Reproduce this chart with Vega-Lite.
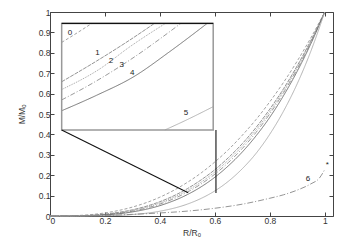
{
  "$schema": "https://vega.github.io/schema/vega-lite/v6.json",
  "width": 283,
  "height": 204,
  "autosize": "none",
  "padding": {"left": 50, "top": 12, "right": 18, "bottom": 30},
  "background": "white",
  "config": {
    "view": {"stroke": null},
    "axis": {
      "grid": false,
      "domainColor": "#444",
      "domainWidth": 1,
      "tickColor": "#444",
      "tickSize": -4,
      "labelFont": "Liberation Sans",
      "labelFontSize": 8.5,
      "labelColor": "#333",
      "titleFont": "Liberation Sans",
      "titleFontSize": 8.5,
      "titleFontWeight": "normal",
      "titleColor": "#333",
      "labelPadding": 4
    }
  },
  "datasets": {
    "curves": [
      {"g": "m0", "c": "0", "R": 0, "M": 0}, {"g": "m0", "c": "0", "R": 0.1, "M": 0.0025}, {"g": "m0", "c": "0", "R": 0.2, "M": 0.0152}, {"g": "m0", "c": "0", "R": 0.3, "M": 0.0437}, {"g": "m0", "c": "0", "R": 0.4, "M": 0.0923}, {"g": "m0", "c": "0", "R": 0.5, "M": 0.165}, {"g": "m0", "c": "0", "R": 0.55, "M": 0.211}, {"g": "m0", "c": "0", "R": 0.6, "M": 0.265}, {"g": "m0", "c": "0", "R": 0.65, "M": 0.326}, {"g": "m0", "c": "0", "R": 0.7, "M": 0.396}, {"g": "m0", "c": "0", "R": 0.75, "M": 0.473}, {"g": "m0", "c": "0", "R": 0.8, "M": 0.56}, {"g": "m0", "c": "0", "R": 0.85, "M": 0.655}, {"g": "m0", "c": "0", "R": 0.9, "M": 0.76}, {"g": "m0", "c": "0", "R": 0.95, "M": 0.875}, {"g": "m0", "c": "0", "R": 1, "M": 1},
      {"g": "m1", "c": "1", "R": 0, "M": 0}, {"g": "m1", "c": "1", "R": 0.1, "M": 0.0013}, {"g": "m1", "c": "1", "R": 0.2, "M": 0.0094}, {"g": "m1", "c": "1", "R": 0.3, "M": 0.0304}, {"g": "m1", "c": "1", "R": 0.4, "M": 0.0701}, {"g": "m1", "c": "1", "R": 0.5, "M": 0.134}, {"g": "m1", "c": "1", "R": 0.55, "M": 0.177}, {"g": "m1", "c": "1", "R": 0.6, "M": 0.227}, {"g": "m1", "c": "1", "R": 0.65, "M": 0.287}, {"g": "m1", "c": "1", "R": 0.7, "M": 0.355}, {"g": "m1", "c": "1", "R": 0.75, "M": 0.434}, {"g": "m1", "c": "1", "R": 0.8, "M": 0.524}, {"g": "m1", "c": "1", "R": 0.85, "M": 0.624}, {"g": "m1", "c": "1", "R": 0.9, "M": 0.737}, {"g": "m1", "c": "1", "R": 0.95, "M": 0.862}, {"g": "m1", "c": "1", "R": 1, "M": 1},
      {"g": "m2", "c": "2", "R": 0, "M": 0}, {"g": "m2", "c": "2", "R": 0.1, "M": 0.001}, {"g": "m2", "c": "2", "R": 0.2, "M": 0.008}, {"g": "m2", "c": "2", "R": 0.3, "M": 0.027}, {"g": "m2", "c": "2", "R": 0.4, "M": 0.064}, {"g": "m2", "c": "2", "R": 0.5, "M": 0.125}, {"g": "m2", "c": "2", "R": 0.55, "M": 0.166}, {"g": "m2", "c": "2", "R": 0.6, "M": 0.216}, {"g": "m2", "c": "2", "R": 0.65, "M": 0.275}, {"g": "m2", "c": "2", "R": 0.7, "M": 0.343}, {"g": "m2", "c": "2", "R": 0.75, "M": 0.422}, {"g": "m2", "c": "2", "R": 0.8, "M": 0.512}, {"g": "m2", "c": "2", "R": 0.85, "M": 0.614}, {"g": "m2", "c": "2", "R": 0.9, "M": 0.729}, {"g": "m2", "c": "2", "R": 0.95, "M": 0.857}, {"g": "m2", "c": "2", "R": 1, "M": 1},
      {"g": "m3", "c": "3", "R": 0, "M": 0}, {"g": "m3", "c": "3", "R": 0.1, "M": 0.0008}, {"g": "m3", "c": "3", "R": 0.2, "M": 0.0068}, {"g": "m3", "c": "3", "R": 0.3, "M": 0.0239}, {"g": "m3", "c": "3", "R": 0.4, "M": 0.0584}, {"g": "m3", "c": "3", "R": 0.5, "M": 0.117}, {"g": "m3", "c": "3", "R": 0.55, "M": 0.157}, {"g": "m3", "c": "3", "R": 0.6, "M": 0.205}, {"g": "m3", "c": "3", "R": 0.65, "M": 0.263}, {"g": "m3", "c": "3", "R": 0.7, "M": 0.331}, {"g": "m3", "c": "3", "R": 0.75, "M": 0.41}, {"g": "m3", "c": "3", "R": 0.8, "M": 0.501}, {"g": "m3", "c": "3", "R": 0.85, "M": 0.604}, {"g": "m3", "c": "3", "R": 0.9, "M": 0.721}, {"g": "m3", "c": "3", "R": 0.95, "M": 0.853}, {"g": "m3", "c": "3", "R": 1, "M": 1},
      {"g": "m4", "c": "4", "R": 0, "M": 0}, {"g": "m4", "c": "4", "R": 0.1, "M": 0.0006}, {"g": "m4", "c": "4", "R": 0.2, "M": 0.0054}, {"g": "m4", "c": "4", "R": 0.3, "M": 0.02}, {"g": "m4", "c": "4", "R": 0.4, "M": 0.0509}, {"g": "m4", "c": "4", "R": 0.5, "M": 0.105}, {"g": "m4", "c": "4", "R": 0.55, "M": 0.143}, {"g": "m4", "c": "4", "R": 0.6, "M": 0.19}, {"g": "m4", "c": "4", "R": 0.65, "M": 0.247}, {"g": "m4", "c": "4", "R": 0.7, "M": 0.314}, {"g": "m4", "c": "4", "R": 0.75, "M": 0.393}, {"g": "m4", "c": "4", "R": 0.8, "M": 0.484}, {"g": "m4", "c": "4", "R": 0.85, "M": 0.59}, {"g": "m4", "c": "4", "R": 0.9, "M": 0.71}, {"g": "m4", "c": "4", "R": 0.95, "M": 0.846}, {"g": "m4", "c": "4", "R": 1, "M": 1},
      {"g": "m5", "c": "5", "R": 0, "M": 0}, {"g": "m5", "c": "5", "R": 0.1, "M": 0.0001}, {"g": "m5", "c": "5", "R": 0.2, "M": 0.0014}, {"g": "m5", "c": "5", "R": 0.3, "M": 0.0072}, {"g": "m5", "c": "5", "R": 0.4, "M": 0.0234}, {"g": "m5", "c": "5", "R": 0.5, "M": 0.0583}, {"g": "m5", "c": "5", "R": 0.55, "M": 0.0862}, {"g": "m5", "c": "5", "R": 0.6, "M": 0.123}, {"g": "m5", "c": "5", "R": 0.65, "M": 0.171}, {"g": "m5", "c": "5", "R": 0.7, "M": 0.232}, {"g": "m5", "c": "5", "R": 0.75, "M": 0.307}, {"g": "m5", "c": "5", "R": 0.8, "M": 0.401}, {"g": "m5", "c": "5", "R": 0.85, "M": 0.514}, {"g": "m5", "c": "5", "R": 0.9, "M": 0.649}, {"g": "m5", "c": "5", "R": 0.95, "M": 0.81}, {"g": "m5", "c": "5", "R": 1, "M": 1},
      {"g": "m6", "c": "6", "R": 0, "M": 0}, {"g": "m6", "c": "6", "R": 0.1, "M": 0.0005}, {"g": "m6", "c": "6", "R": 0.2, "M": 0.003}, {"g": "m6", "c": "6", "R": 0.3, "M": 0.008}, {"g": "m6", "c": "6", "R": 0.4, "M": 0.015}, {"g": "m6", "c": "6", "R": 0.5, "M": 0.024}, {"g": "m6", "c": "6", "R": 0.6, "M": 0.038}, {"g": "m6", "c": "6", "R": 0.7, "M": 0.058}, {"g": "m6", "c": "6", "R": 0.8, "M": 0.087}, {"g": "m6", "c": "6", "R": 0.85, "M": 0.104}, {"g": "m6", "c": "6", "R": 0.9, "M": 0.127}, {"g": "m6", "c": "6", "R": 0.95, "M": 0.158}, {"g": "m6", "c": "6", "R": 0.98, "M": 0.185}, {"g": "m6", "c": "6", "R": 1.0, "M": 0.228},
      {"g": "i0", "c": "0", "R": 0.0425, "M": 0.851}, {"g": "i0", "c": "0", "R": 0.098, "M": 0.897}, {"g": "i0", "c": "0", "R": 0.152, "M": 0.944},
      {"g": "i1", "c": "1", "R": 0.0425, "M": 0.658}, {"g": "i1", "c": "1", "R": 0.17, "M": 0.76}, {"g": "i1", "c": "1", "R": 0.291, "M": 0.863}, {"g": "i1", "c": "1", "R": 0.38, "M": 0.944},
      {"g": "i2", "c": "2", "R": 0.0425, "M": 0.62}, {"g": "i2", "c": "2", "R": 0.18, "M": 0.72}, {"g": "i2", "c": "2", "R": 0.291, "M": 0.83}, {"g": "i2", "c": "2", "R": 0.42, "M": 0.944},
      {"g": "i3", "c": "3", "R": 0.0425, "M": 0.569}, {"g": "i3", "c": "3", "R": 0.16, "M": 0.655}, {"g": "i3", "c": "3", "R": 0.291, "M": 0.765}, {"g": "i3", "c": "3", "R": 0.476, "M": 0.944},
      {"g": "i4", "c": "4", "R": 0.0425, "M": 0.516}, {"g": "i4", "c": "4", "R": 0.17, "M": 0.592}, {"g": "i4", "c": "4", "R": 0.305, "M": 0.683}, {"g": "i4", "c": "4", "R": 0.436, "M": 0.806}, {"g": "i4", "c": "4", "R": 0.572, "M": 0.944},
      {"g": "i5", "c": "5", "R": 0.418, "M": 0.4216}, {"g": "i5", "c": "5", "R": 0.505, "M": 0.476}, {"g": "i5", "c": "5", "R": 0.594, "M": 0.536}
    ],
    "frame": [{"x1": 0.0425, "x2": 0.594, "y1": 0.4216, "y2": 0.944}],
    "conn": [
      {"x1": 0.0425, "y1": 0.4216, "x2": 0.503, "y2": 0.114},
      {"x1": 0.604, "y1": 0.4216, "x2": 0.604, "y2": 0.113},
      {"x1": 0.0425, "y1": 0.944, "x2": 0.594, "y2": 0.944}
    ],
    "labels": [
      {"t": "0", "R": 0.073, "M": 0.899},
      {"t": "1", "R": 0.173, "M": 0.8},
      {"t": "2", "R": 0.222, "M": 0.761},
      {"t": "3", "R": 0.261, "M": 0.74},
      {"t": "4", "R": 0.299, "M": 0.7},
      {"t": "5", "R": 0.495, "M": 0.506},
      {"t": "6", "R": 0.939, "M": 0.181},
      {"t": "*", "R": 1.009, "M": 0.25}
    ]
  },
  "layer": [
    {
      "data": {"name": "curves"},
      "mark": {"type": "line", "strokeWidth": 0.9, "interpolate": "monotone"},
      "encoding": {
        "x": {"field": "R", "type": "quantitative", "scale": {"domain": [0, 1.03], "nice": false, "zero": false},
              "axis": {"orient": "bottom", "values": [0, 0.2, 0.4, 0.6, 0.8, 1], "format": "~g", "title": "R/Rₒ", "titlePadding": 4}},
        "y": {"field": "M", "type": "quantitative", "scale": {"domain": [0, 1], "nice": false},
              "axis": {"orient": "left", "values": [0, 0.1, 0.2, 0.3, 0.4, 0.5, 0.6, 0.7, 0.8, 0.9, 1], "format": "~g", "title": "M/Mₒ", "titlePadding": 12}},
        "detail": {"field": "g", "type": "nominal"},
        "color": {"field": "c", "type": "nominal", "legend": null,
                  "scale": {"domain": ["0", "1", "2", "3", "4", "5", "6"], "range": ["#999999", "#888888", "#999999", "#909090", "#666666", "#aaaaaa", "#888888"]}},
        "strokeDash": {"field": "c", "type": "nominal", "legend": null,
                  "scale": {"domain": ["0", "1", "2", "3", "4", "5", "6"], "range": [[3, 2], [4, 1], [1, 1], [5, 2, 1, 2], [1, 0], [1, 0], [6, 2, 1, 2]]}}
      }
    },
    {
      "data": {"name": "frame"},
      "mark": {"type": "rect", "fill": null, "stroke": "#999999", "strokeWidth": 1.5},
      "encoding": {
        "x": {"field": "x1", "type": "quantitative", "axis": {"orient": "top", "values": [0, 0.2, 0.4, 0.6, 0.8, 1], "labels": false, "title": null, "domain": true}},
        "x2": {"field": "x2"},
        "y": {"field": "y1", "type": "quantitative", "axis": {"orient": "right", "values": [0, 0.1, 0.2, 0.3, 0.4, 0.5, 0.6, 0.7, 0.8, 0.9, 1], "labels": false, "title": null, "domain": true}},
        "y2": {"field": "y2"}
      }
    },
    {
      "data": {"name": "conn"},
      "mark": {"type": "rule", "color": "#111111", "strokeWidth": 1.1},
      "encoding": {
        "x": {"field": "x1", "type": "quantitative", "axis": null},
        "x2": {"field": "x2"},
        "y": {"field": "y1", "type": "quantitative", "axis": null},
        "y2": {"field": "y2"}
      }
    },
    {
      "data": {"name": "labels"},
      "mark": {"type": "text", "font": "Liberation Sans", "fontSize": 8, "color": "#222222", "align": "center", "baseline": "middle"},
      "encoding": {
        "x": {"field": "R", "type": "quantitative", "axis": null},
        "y": {"field": "M", "type": "quantitative", "axis": null},
        "text": {"field": "t", "type": "nominal"}
      }
    }
  ],
  "resolve": {"axis": {"x": "independent", "y": "independent"}}
}
